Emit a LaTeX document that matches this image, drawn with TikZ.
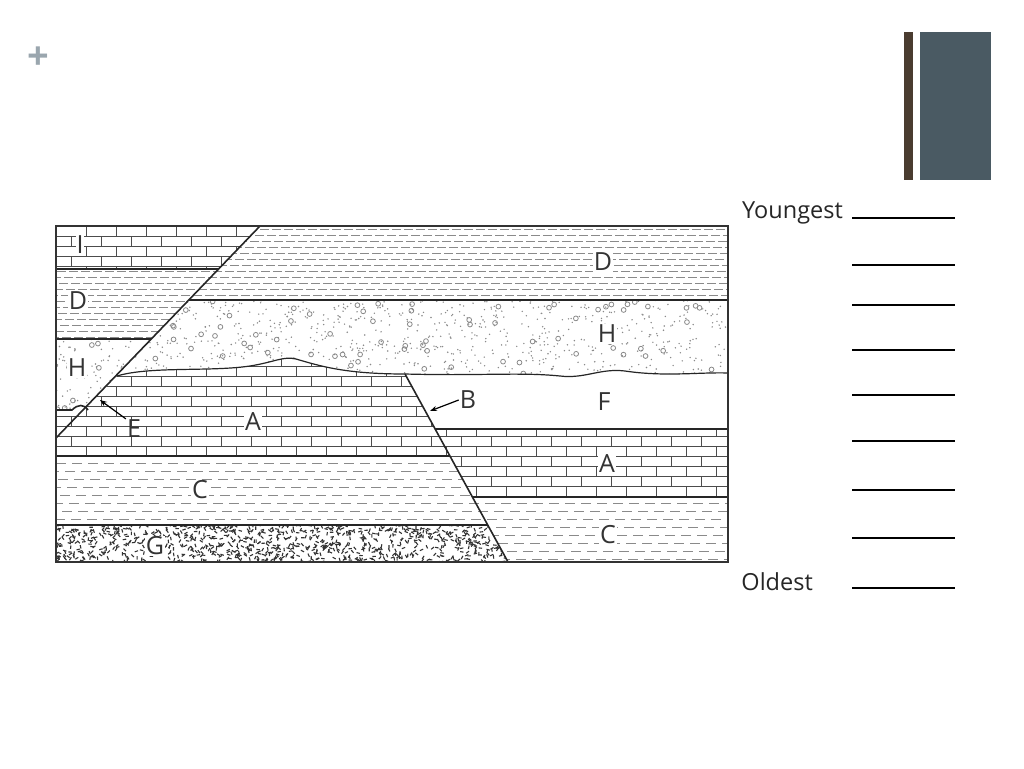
\documentclass[tikz,border=0pt]{standalone}
\usepackage{fontspec}
\setmainfont{Open Sans}
\usepackage{tikz}
\usetikzlibrary{arrows.meta,positioning}
\definecolor{slatebar}{HTML}{4A5A63}
\definecolor{brownbar}{HTML}{4A3C30}
\definecolor{plusgray}{HTML}{9AA6AE}
\definecolor{patgray}{HTML}{8A8A8A}

\begin{document}
\begin{tikzpicture}[x=1pt,y=-1pt,
  bound/.style={line width=1.6pt, black!85},
  brick/.style={line width=0.6pt, black!70},
  dline/.style={line width=0.5pt, patgray, dash pattern=on 9pt off 3pt},
  cline/.style={line width=1pt, patgray, dash pattern=on 10pt off 6pt},
  lay/.style={font=\fontsize{25}{27}\selectfont, text=black!80, fill=white, inner sep=1pt},
  ans/.style={line width=1.8pt, black},
  side/.style={font=\fontsize{23.5}{26}\selectfont, text=black!85, inner sep=0pt},
]
  \useasboundingbox (0,0) rectangle (1024,768);
  \pgfmathsetseed{7}

  % Slide decoration
  \node[text=plusgray, font=\fontsize{38}{38}\selectfont\bfseries] (plus) at (38,58) {+};
  \fill[brownbar] (904,32) rectangle (913,180);
  \fill[slatebar] (920,32) rectangle (991,180);

  % H (conglomerate) on both sides of the left fault
  \begin{scope}
    \clip (188.8,300) -- (728,300) -- (728,385) -- (105,385) -- cycle
          (56,339) -- (151,339) -- (83,410) -- (56,410) -- cycle;
    \foreach \i in {1,...,1300} {
      \pgfmathsetmacro\xx{56+672*rnd}\pgfmathsetmacro\yy{300+110*rnd}
      \fill[patgray] (\xx,\yy) circle (0.8);
    }
    \foreach \i in {1,...,130} {
      \pgfmathsetmacro\xx{56+672*rnd}\pgfmathsetmacro\yy{300+110*rnd}
      \draw[patgray, line width=0.8pt] (\xx,\yy) circle (2.4);
    }
  \end{scope}

  % D (shale) on both sides
  \begin{scope}
    \clip (260,226) -- (728,226) -- (728,300) -- (188.8,300) -- cycle
          (56,269) -- (218.6,269) -- (151,339) -- (56,339) -- cycle;
    \foreach \r in {0,...,19} {
      \pgfmathsetmacro\yy{229+\r*6}
      \draw[dline, dash phase=\r*5pt] (56,\yy) -- (728,\yy);
    }
  \end{scope}

  % A and F, below the unconformity
  \def\unconf{(117,376) .. controls (150,366) and (210,372) .. (250,366)
    .. controls (275,362) and (283,356) .. (296,359)
    .. controls (320,366) and (345,374) .. (405,374)
    .. controls (480,376) and (520,372) .. (560,376)
    .. controls (585,379) and (600,368) .. (625,371)
    .. controls (665,377) and (700,372) .. (728,373)}
  \fill[white] \unconf -- (728,429) -- (435,429) -- (405,374) -- (450,456)
    -- (56,456) -- (56,438) -- cycle;
  \begin{scope}
    \clip (117,376) .. controls (150,366) and (210,372) .. (250,366)
      .. controls (275,362) and (283,356) .. (296,359)
      .. controls (320,366) and (345,374) .. (405,374)
      -- (450,456) -- (56,456) -- (56,438) -- cycle
      (56,410) -- (83,410) -- (56,438) -- cycle
      (56,226) -- (260,226) -- (218.6,269) -- (56,269) -- cycle
      (435,429) -- (728,429) -- (728,497) -- (472,497) -- cycle;
    \foreach \r in {0,...,33} {
      \pgfmathsetmacro\yy{226+\r*10}
      \pgfmathsetmacro\off{mod(\r,2)*15}
      \draw[brick] (56,\yy) -- (728,\yy);
      \foreach \c in {0,...,22} {
        \draw[brick] (56+\off+\c*30,\yy) -- ++(0,10);
      }
    }
  \end{scope}

  % C (dashed shale)
  \begin{scope}
    \clip (56,456) -- (450,456) -- (488,525) -- (56,525) -- cycle
          (472,497) -- (728,497) -- (728,562) -- (508,562) -- cycle;
    \foreach \r in {0,...,13} {
      \pgfmathsetmacro\yy{463+\r*8}
      \draw[cline, dash phase=\r*7pt] (56,\yy) -- (728,\yy);
    }
  \end{scope}

  % G (igneous, speckled)
  \begin{scope}
    \clip (56,525) -- (488,525) -- (508,562) -- (56,562) -- cycle;
    \foreach \i in {1,...,1000} {
      \pgfmathsetmacro\xx{56+452*rnd}\pgfmathsetmacro\yy{525+37*rnd}
      \pgfmathsetmacro\aa{360*rnd}
      \draw[black!80, line width=1.1pt] (\xx,\yy) -- ++(\aa:3.5);
    }
  \end{scope}

  % Contacts
  \draw[bound] (56,269) -- (218.6,269);
  \draw[bound] (56,339) -- (151,339);
  \draw[bound] (188.8,300) -- (728,300);
  \draw[bound, line width=1.2pt] \unconf;
  \draw[bound] (435,429) -- (728,429);
  \draw[bound] (56,456) -- (450,456);
  \draw[bound] (472,497) -- (728,497);
  \draw[bound] (56,525) -- (488,525);
  \draw[bound] (56,410) -- (72,410) .. controls (78,404) and (84,404) .. (88,410);
  \draw[bound] (56,438) -- (260,226);
  \draw[bound] (405,374) -- (508,562);
  \draw[line width=1.3pt, black!80] (56,226) rectangle (728,562);

  % Layer labels
  \node[lay] (lI) at (80,245) {I};
  \node[lay] (lD1) at (78,301) {D};
  \node[lay] (lH1) at (77,368) {H};
  \node[lay, fill=none] (lE) at (134,429) {E};
  \node[lay] (lA1) at (253,422) {A};
  \node[lay] (lC1) at (200,490) {C};
  \node[lay] (lG) at (155,546) {G};
  \node[lay] (lD2) at (603,262) {D};
  \node[lay] (lH2) at (607,334) {H};
  \node[lay] (lF) at (604,402) {F};
  \node[lay] (lA2) at (607,464) {A};
  \node[lay] (lC2) at (608,535) {C};
  \node[lay, fill=none] (lB) at (468,400) {B};
  \coordinate (eTip) at (100,400);
  \coordinate (bTip) at (430,411);
  \draw[-{Stealth[length=7pt]}, line width=1.2pt] (lE.north west) -- (eTip);
  \draw[-{Stealth[length=7pt]}, line width=1.2pt] (lB.west) -- (bTip);

  % Age order answer lines
  \node[side, anchor=east] (young) at (843,213) {Youngest};
  \node[side, anchor=east] (old) at (813,582) {Oldest};
  \foreach \y [count=\k] in {218,265,305,350,395,441,490,538,588} {
    \coordinate (a\k) at (852,\y);
    \draw[ans] (a\k) -- ++(103,0);
  }
\end{tikzpicture}
\end{document}
